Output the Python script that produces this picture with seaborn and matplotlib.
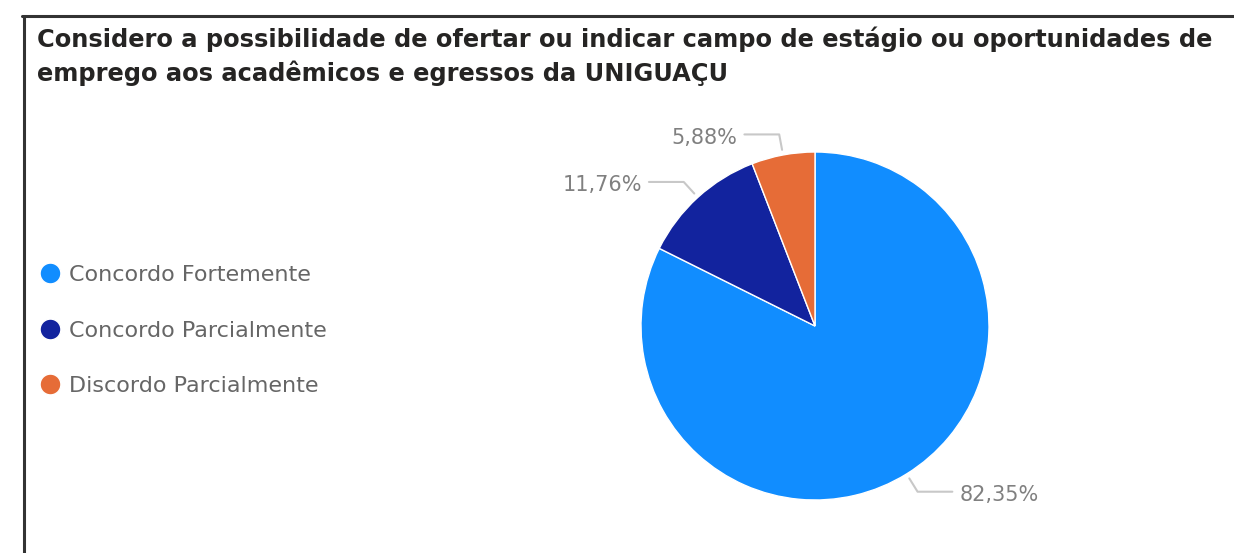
import matplotlib
matplotlib.use("Agg")
import matplotlib.pyplot as plt
import seaborn as sns
import numpy as np
from matplotlib.lines import Line2D

categories = ["Concordo Fortemente", "Concordo Parcialmente", "Discordo Parcialmente"]
values = [82.35, 11.76, 5.88]
value_labels = ["82,35%", "11,76%", "5,88%"]
colors = ["#118DFF", "#12239E", "#E66C37"]
title = ("Considero a possibilidade de ofertar ou indicar campo de estágio ou oportunidades de\n"
         "emprego aos acadêmicos e egressos da UNIGUAÇU")

sns.set_theme(style="white")
plt.rcParams['font.family'] = ['DejaVu Sans']

W, H = 1234, 553
fig = plt.figure(figsize=(W / 100, H / 100), dpi=100)
fig.patch.set_facecolor("white")

# pie axes: center (815, 326) px, radius 174 px
cx, cy, r = 815, 326, 174
ax = fig.add_axes([(cx - r) / W, 1 - (cy + r) / H, 2 * r / W, 2 * r / H])
ax.set_axis_off()
wedges, _ = ax.pie(values, colors=sns.color_palette(colors), startangle=90, counterclock=False,
                   radius=1, wedgeprops=dict(edgecolor="white", linewidth=1))
ax.set_xlim(-1, 1)
ax.set_ylim(-1, 1)

for w, lab in zip(wedges, value_labels):
    ang = np.deg2rad((w.theta1 + w.theta2) / 2)
    x0, y0 = 1.03 * np.cos(ang), 1.03 * np.sin(ang)
    x1, y1 = 1.12 * np.cos(ang), 1.12 * np.sin(ang)
    s = 1 if np.cos(ang) >= 0 else -1
    x2 = x1 + s * 0.2
    ax.plot([x0, x1, x2], [y0, y1, y1], color="#C8C8C8", lw=1.5, clip_on=False)
    ax.text(x2 + s * 0.04, y1 - 0.02, lab, ha="left" if s > 0 else "right", va="center",
            fontsize=15, color="#808080", clip_on=False)

# legend
handles = [Line2D([0], [0], marker="o", color="w", markerfacecolor=c, markersize=15, lw=0)
           for c in colors]
fig.legend(handles, categories, loc="upper left", bbox_to_anchor=(26 / W, 1 - 254 / H),
           frameon=False, fontsize=16, labelcolor="#666666", labelspacing=1.6,
           handletextpad=0.25, handlelength=1.2, borderpad=0)

# title
t = fig.text(37 / W, 1 - 26 / H, title, ha="left", va="top", fontsize=16, fontweight="bold",
             color="#252423", linespacing=1.45)
fig.canvas.draw()
bb = t.get_window_extent()
t.set_fontsize(16 * (1183 / bb.width))

# frame lines
fig.add_artist(Line2D([22 / W, 1.0], [1 - 16 / H, 1 - 16 / H], color="#333333", lw=2.2,
                      transform=fig.transFigure))
fig.add_artist(Line2D([24 / W, 24 / W], [1 - 16 / H, 0], color="#333333", lw=2.2,
                      transform=fig.transFigure))

fig.savefig("out.png", dpi=100)
